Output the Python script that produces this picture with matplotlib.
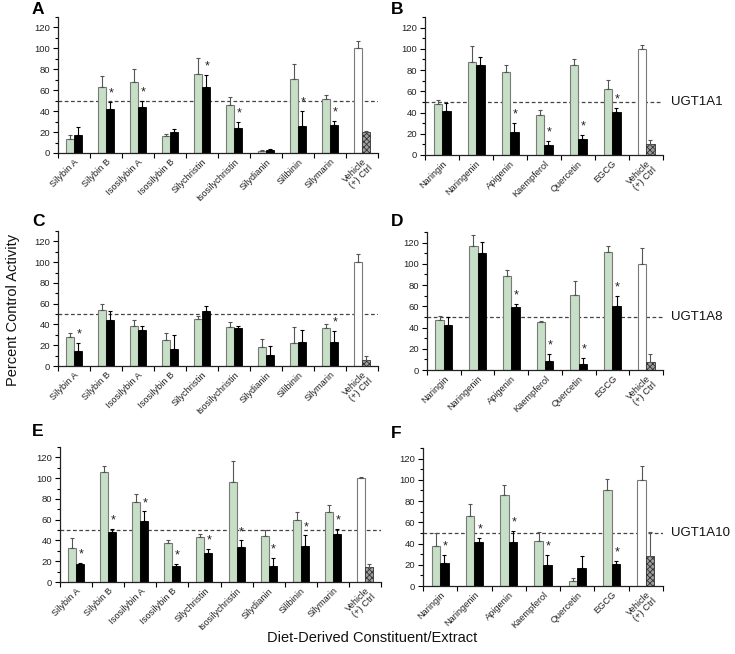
import matplotlib
matplotlib.use("Agg")
import matplotlib.pyplot as plt
import numpy as np

plt.rcParams["font.family"] = ["Liberation Sans", "DejaVu Sans"]
plt.rcParams["hatch.linewidth"] = 0.6

milk_names = ["Silybin A", "Silybin B", "Isosilybin A", "Isosilybin B", "Silychristin",
              "Isosilychristin", "Silydianin", "Silibinin", "Silymarin", "Vehicle\n(+) Ctrl"]
flav_names = ["Naringin", "Naringenin", "Apigenin", "Kaempferol", "Quercetin", "EGCG",
              "Vehicle\n(+) Ctrl"]

# green = first bar, black = second bar, last entry = vehicle / (+) ctrl
a_green = [13, 63, 68, 16, 75.5, 45.5, 1.5, 70.5, 52, 100]
a_green_err = [4, 11, 12, 2, 15.5, 8, 1, 14.5, 3.5, 7.5]
a_black = [17.5, 42, 43.5, 20.5, 63, 23.5, 3, 26, 27, 20]
a_black_err = [7.5, 6.5, 6.5, 2, 11.5, 6.5, 0.5, 14, 3.5, 1]
a_star = [0, 1, 1, 0, 1, 1, 0, 1, 1, 0]

b_green = [48, 88, 78, 37.5, 84.5, 62, 100]
b_green_err = [4, 15, 6.5, 5, 5.5, 9, 4]
b_black = [41, 85, 21.5, 9.5, 15.5, 40.5, 10]
b_black_err = [8, 7, 8.5, 3.5, 3, 3.5, 4]
b_star = [0, 0, 1, 1, 1, 1, 0]

c_green = [28, 54, 38.5, 25.5, 45.5, 37.5, 18, 22, 36.5, 100]
c_green_err = [3.5, 6, 5.5, 6.5, 3, 4.5, 8, 16, 3.5, 7.5]
c_black = [14.5, 44.5, 35, 16.5, 53, 36.5, 10.5, 23.5, 23, 5.5]
c_black_err = [7.5, 8.5, 4, 13.5, 4.5, 2.5, 8.5, 11, 10.5, 4.5]
c_star = [1, 0, 0, 0, 0, 0, 0, 0, 1, 0]

d_green = [47.5, 116.5, 89, 45, 70.5, 111.5, 100]
d_green_err = [3, 10.5, 5, 1.5, 13, 5.5, 14.5]
d_black = [42.5, 110.5, 59.5, 8.5, 5.5, 60, 8]
d_black_err = [7.5, 10.5, 2.5, 6.5, 5.5, 9.5, 7.5]
d_star = [0, 0, 1, 1, 1, 1, 0]

e_green = [32.5, 105.5, 77.5, 38, 43.5, 96.5, 44.5, 60, 67, 100]
e_green_err = [9.5, 6, 7.5, 2, 3, 20.5, 5.5, 7.5, 7, 1]
e_black = [17.5, 48, 58.5, 15, 27.5, 33.5, 15, 35, 46.5, 14.5]
e_black_err = [1, 3, 9.5, 2.5, 4.5, 6.5, 8, 10, 4.5, 3]
e_star = [1, 1, 1, 1, 1, 1, 1, 1, 1, 0]

f_green = [38, 65.5, 86, 42, 5, 90.5, 100]
f_green_err = [12, 11.5, 9.5, 8.5, 3, 10, 13]
f_black = [21.5, 41, 41.5, 20, 17, 21, 28.5]
f_black_err = [8, 4.5, 10.5, 9, 11.5, 3, 22.5]
f_star = [1, 1, 1, 1, 0, 1, 0]

isoforms = ["UGT1A1", "UGT1A8", "UGT1A10"]

W, H = 735, 654
fig = plt.figure(figsize=(W / 100, H / 100), dpi=100)


def add_ax(l, t, r, b):
    return fig.add_axes([l / W, 1 - b / H, (r - l) / W, (b - t) / H])


def draw_panel(ax, names, green, green_err, black, black_err, stars, iso=None):
    n = len(names)
    x = np.arange(n)
    bw = 0.25
    g_col = ["#c6dfc6"] * (n - 1) + ["white"]
    for i in range(n):
        last = i == n - 1
        ax.bar(x[i] - bw / 2, green[i], bw, color=g_col[i], edgecolor="#7a7a7a", linewidth=0.8,
               zorder=2)
        ax.errorbar(x[i] - bw / 2, green[i], yerr=[[0], [green_err[i]]], fmt="none",
                    ecolor="#555555", elinewidth=0.8, capsize=1.6, capthick=0.8, zorder=3)
        if last:
            ax.bar(x[i] + bw / 2, black[i], bw, color="#9e9e9e", edgecolor="#333333",
                   linewidth=0.6, hatch="xxxxxx", zorder=2)
            ecol = "#555555"
        else:
            ax.bar(x[i] + bw / 2, black[i], bw, color="black", edgecolor="black",
                   linewidth=0.6, zorder=2)
            ecol = "black"
        ax.errorbar(x[i] + bw / 2, black[i], yerr=[[0], [black_err[i]]], fmt="none",
                    ecolor=ecol, elinewidth=0.8, capsize=1.6, capthick=0.8, zorder=3)
        if stars[i]:
            ax.text(x[i] + bw / 2 + 0.03, black[i] + black_err[i] + 8, "*", ha="center",
                    va="center", fontsize=9, color="#222222")
    ax.axhline(50, color="#444444", linestyle=(0, (3, 2)), linewidth=0.9, zorder=1)
    ax.set_xlim(-0.5, n - 0.5)
    ax.set_ylim(0, 130)
    ax.set_xticks(np.arange(n + 1) - 0.5)
    ax.set_xticklabels([])
    ax.set_xticks(x, minor=True)
    ax.set_xticklabels(names, minor=True, rotation=45, ha="right", rotation_mode="anchor",
                       fontsize=6.7, color="#222222", linespacing=1.0)
    ax.tick_params(axis="x", which="minor", length=0, pad=3)
    ax.tick_params(axis="x", which="major", length=3.5, width=0.8, direction="out")
    ax.set_yticks(np.arange(0, 121, 20))
    ax.set_yticks(np.arange(10, 131, 20), minor=True)
    ax.tick_params(axis="y", which="major", labelsize=6.8, length=3.5, width=0.8,
                   labelcolor="#222222", pad=2)
    ax.tick_params(axis="y", which="minor", length=2, width=0.8)
    for s in ["top", "right"]:
        ax.spines[s].set_visible(False)
    for s in ["left", "bottom"]:
        ax.spines[s].set_linewidth(0.9)
        ax.spines[s].set_color("#222222")
    if iso:
        ax.text(1.035, 50, iso, transform=ax.get_yaxis_transform(), ha="left", va="center",
                fontsize=9.5, color="#111111")


ax_a = add_ax(58, 17, 378, 153)
ax_b = add_ax(425, 17, 663, 155)
ax_c = add_ax(58, 231, 378, 366)
ax_d = add_ax(427, 232, 663, 370)
ax_e = add_ax(60, 447, 381, 582)
ax_f = add_ax(423, 448, 663, 586)

draw_panel(ax_a, milk_names, a_green, a_green_err, a_black, a_black_err, a_star)
draw_panel(ax_b, flav_names, b_green, b_green_err, b_black, b_black_err, b_star, isoforms[0])
draw_panel(ax_c, milk_names, c_green, c_green_err, c_black, c_black_err, c_star)
draw_panel(ax_d, flav_names, d_green, d_green_err, d_black, d_black_err, d_star, isoforms[1])
draw_panel(ax_e, milk_names, e_green, e_green_err, e_black, e_black_err, e_star)
draw_panel(ax_f, flav_names, f_green, f_green_err, f_black, f_black_err, f_star, isoforms[2])

letters = [("A", 32, 2), ("B", 391, 2), ("C", 32, 214), ("D", 391, 214), ("E", 32, 424),
           ("F", 391, 426)]
for txt, lx, ly in letters:
    fig.text(lx / W, 1 - ly / H, txt, ha="left", va="top", fontsize=12.5, fontweight="bold")

fig.text(13 / W, 1 - 310 / H, "Percent Control Activity", rotation=90, ha="center",
         va="center", fontsize=10.5, color="#111111")
fig.text(372 / W, 1 - 638 / H, "Diet-Derived Constituent/Extract", ha="center", va="center",
         fontsize=10.5, color="#111111")

fig.savefig("out.png", dpi=100)
plt.close(fig)
